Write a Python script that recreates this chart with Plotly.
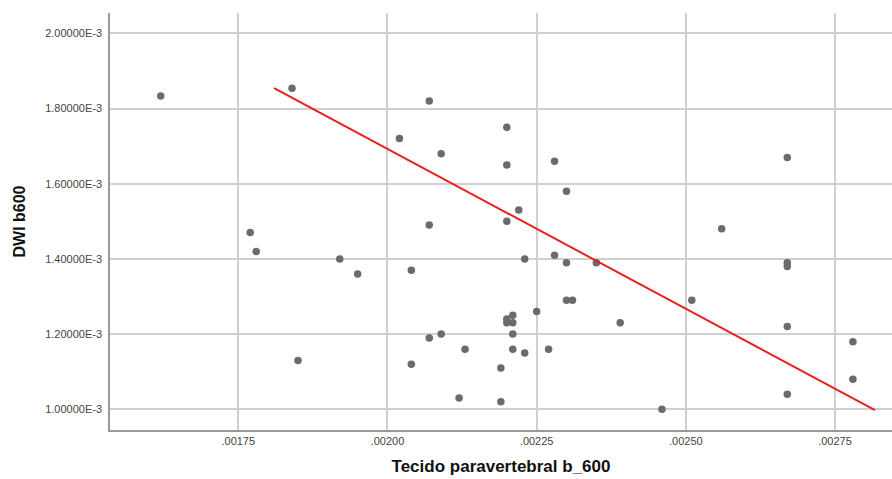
import plotly.graph_objects as go

# Data
tecido_b600 = [0.00162, 0.00184, 0.00177, 0.00178, 0.00185, 0.00192, 0.00195, 0.00202,
               0.00207, 0.00209, 0.00207, 0.00204, 0.00204, 0.00207, 0.00209, 0.00213,
               0.00212, 0.00219, 0.00219, 0.00220, 0.00220, 0.00220, 0.00222, 0.00223,
               0.00220, 0.00220, 0.00221, 0.00221, 0.00221, 0.00221, 0.00223, 0.00225,
               0.00227, 0.00228, 0.00228, 0.00230, 0.00230, 0.00230, 0.00231, 0.00235,
               0.00239, 0.00246, 0.00251, 0.00256, 0.00267, 0.00267, 0.00267, 0.00267,
               0.00267, 0.00278, 0.00278]
dwi_b600 = [1.833e-3, 1.854e-3, 1.47e-3, 1.42e-3, 1.13e-3, 1.40e-3, 1.36e-3, 1.72e-3,
            1.82e-3, 1.68e-3, 1.49e-3, 1.37e-3, 1.12e-3, 1.19e-3, 1.20e-3, 1.16e-3,
            1.03e-3, 1.11e-3, 1.02e-3, 1.75e-3, 1.65e-3, 1.50e-3, 1.53e-3, 1.40e-3,
            1.24e-3, 1.23e-3, 1.25e-3, 1.23e-3, 1.20e-3, 1.16e-3, 1.15e-3, 1.26e-3,
            1.16e-3, 1.66e-3, 1.41e-3, 1.58e-3, 1.39e-3, 1.29e-3, 1.29e-3, 1.39e-3,
            1.23e-3, 1.00e-3, 1.29e-3, 1.48e-3, 1.67e-3, 1.39e-3, 1.38e-3, 1.22e-3,
            1.04e-3, 1.18e-3, 1.08e-3]

# Red reference line endpoints as shown
line_x = [0.00181, 0.002817]
line_y = [1.854e-3, 0.998e-3]

x_ticks = [0.00175, 0.00200, 0.00225, 0.00250, 0.00275]
x_tick_labels = [".00175", ".00200", ".00225", ".00250", ".00275"]
y_ticks = [1.0e-3, 1.2e-3, 1.4e-3, 1.6e-3, 1.8e-3, 2.0e-3]
y_tick_labels = ["1.00000E-3", "1.20000E-3", "1.40000E-3", "1.60000E-3", "1.80000E-3", "2.00000E-3"]

fig = go.Figure()
fig.add_trace(go.Scatter(
    x=tecido_b600, y=dwi_b600, mode="markers",
    marker=dict(size=7.5, color="#6b6b6b", line=dict(width=0)),
    showlegend=False, hoverinfo="x+y"))
fig.add_trace(go.Scatter(
    x=line_x, y=line_y, mode="lines",
    line=dict(color="#e82020", width=2), showlegend=False))

fig.update_layout(
    width=892, height=479,
    margin=dict(l=110, r=0, t=13, b=49),
    paper_bgcolor="white", plot_bgcolor="white",
    font=dict(family="Liberation Sans, Arial, sans-serif", color="#333333"),
)
fig.update_xaxes(
    range=[0.001535, 0.0028455],
    tickvals=x_ticks, ticktext=x_tick_labels,
    tickfont=dict(size=11, color="#444444"),
    showgrid=True, gridcolor="#d0d0d0", gridwidth=1.5,
    showline=True, linecolor="#999999", linewidth=1.5,
    ticks="", zeroline=False,
    title=dict(text="<b>Tecido paravertebral b_600</b>", font=dict(size=17, color="#111111"), standoff=14),
)
fig.update_yaxes(
    range=[0.945e-3, 2.054e-3],
    tickvals=y_ticks, ticktext=y_tick_labels,
    tickfont=dict(size=11, color="#444444"),
    showgrid=True, gridcolor="#d0d0d0", gridwidth=1.5,
    showline=True, linecolor="#999999", linewidth=1.5,
    ticks="", zeroline=False, ticklabelstandoff=4,
    title=dict(text="<b>DWI b600</b>", font=dict(size=16, color="#111111"), standoff=16),
)

fig.write_html("out.html")
